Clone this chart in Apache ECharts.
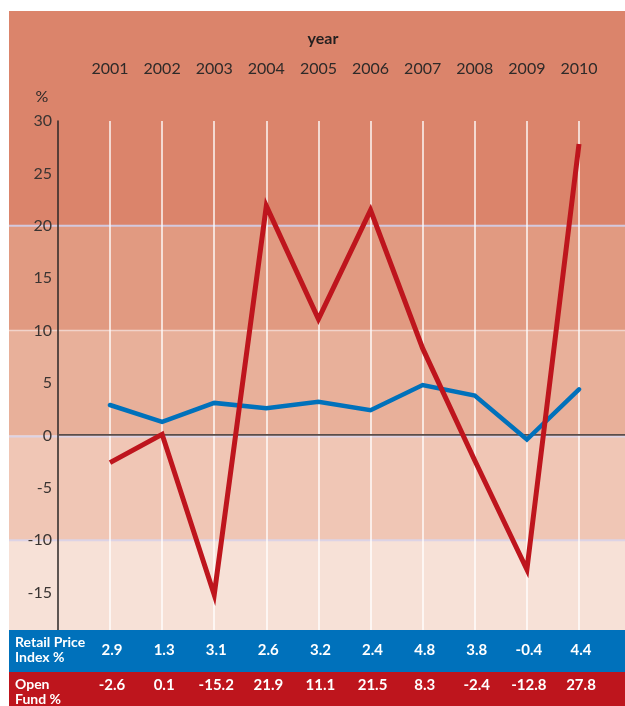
<!DOCTYPE html>
<html>
<head>
<meta charset="utf-8">
<style>
  html, body { margin: 0; padding: 0; background: #ffffff; }
  #chart { width: 625px; height: 706px; }
</style>
<script src="https://cdn.jsdelivr.net/npm/echarts@6/dist/echarts.min.js"></script>
</head>
<body>
<div id="chart"></div>
<script>
// Annual change, per cent
const years = ['2001', '2002', '2003', '2004', '2005', '2006', '2007', '2008', '2009', '2010'];
const retailPriceIndex = [2.9, 1.3, 3.1, 2.6, 3.2, 2.4, 4.8, 3.8, -0.4, 4.4];
const openFund = [-2.6, 0.1, -15.2, 21.9, 11.1, 21.5, 8.3, -2.4, -12.8, 27.8];

// Value axis settings
const yMin = -20;
const yMax = 30;
const yStep = 5;
// Levels where the background shading changes
const bandLevels = [20, 10, 0, -10];

const FONT = 'Lato, "Open Sans", sans-serif';
const TEXT = '#2e2a29';
const BLUE = '#0071bb';
const RED = '#be151d';

const chart = echarts.init(document.getElementById('chart'), null, { renderer: 'canvas' });

chart.setOption({
  animation: false,
  grid: { left: 110, top: 121, width: 469, height: 524 },
  xAxis: {
    type: 'category',
    position: 'top',
    boundaryGap: false,
    data: years,
    axisLine: { show: false },
    axisTick: { show: false },
    axisLabel: { interval: 0, margin: 44, color: TEXT, fontSize: 16, fontFamily: FONT },
    splitLine: { show: true, lineStyle: { color: 'rgba(255,255,255,0.92)', width: 1.5 } }
  },
  yAxis: {
    type: 'value',
    min: yMin,
    max: yMax,
    interval: yStep,
    offset: 52,
    axisLine: { show: true, lineStyle: { color: '#2b2626', width: 1.5 } },
    axisTick: { show: false },
    splitLine: { show: false },
    axisLabel: {
      margin: 6,
      color: '#3a3432',
      fontSize: 16,
      fontFamily: FONT,
      formatter: v => (v === yMin ? '' : String(v))
    }
  },
  series: [
    {
      name: 'Retail Price Index %',
      type: 'line',
      data: retailPriceIndex,
      symbol: 'none',
      clip: false,
      z: 3,
      lineStyle: { color: BLUE, width: 4.5, join: 'miter', cap: 'round' }
    },
    {
      name: 'Open Fund %',
      type: 'line',
      data: openFund,
      symbol: 'none',
      clip: false,
      z: 4,
      lineStyle: { color: RED, width: 5, join: 'miter', cap: 'butt' }
    }
  ]
});

// Background shading, header texts and the value table under the plot
(function () {
  const W = 625, H = 706;
  const panelLeft = 9, panelTop = 11;
  const axisX = 58;
  const tableTop = 630, rowH = 42;
  const yPx = v => chart.convertToPixel({ yAxisIndex: 0 }, v);
  const xPx = c => chart.convertToPixel({ xAxisIndex: 0 }, c);

  const bandColors = ['#db846b', '#e19a81', '#e8b09a', '#f0c6b5', '#f7e1d7'];
  const edges = [panelTop].concat(bandLevels.map(yPx)).concat([tableTop]);
  const elements = [];

  for (let i = 0; i < bandColors.length; i++) {
    elements.push({
      type: 'rect', silent: true, z: -20,
      shape: { x: panelLeft, y: edges[i], width: W - panelLeft, height: edges[i + 1] - edges[i] },
      style: { fill: bandColors[i] }
    });
  }

  // Separator lines between the shaded bands
  const sepStyle = { 20: ['#d3c9df', 2], 10: ['#f1d3ca', 1.5], 0: ['#dcd3e6', 2], '-10': ['#dcd3e6', 2] };
  bandLevels.forEach(v => {
    const y = yPx(v) + (v === 0 ? 1 : 0);
    elements.push({
      type: 'line', silent: true, z: -10,
      shape: { x1: panelLeft, y1: y, x2: W, y2: y },
      style: { stroke: sepStyle[v][0], lineWidth: sepStyle[v][1] }
    });
  });
  // Zero line
  elements.push({
    type: 'line', silent: true, z: 1,
    shape: { x1: axisX, y1: yPx(0) - 0.5, x2: W, y2: yPx(0) - 0.5 },
    style: { stroke: '#5a4d4a', lineWidth: 1.8 }
  });

  // Header texts
  elements.push({
    type: 'text', silent: true, z: 5,
    style: { x: 323, y: 39, text: 'year', fill: '#231f1f', font: 'bold 16px ' + FONT, textAlign: 'center', textVerticalAlign: 'middle' }
  });
  elements.push({
    type: 'text', silent: true, z: 5,
    style: { x: 42, y: 97, text: '%', fill: TEXT, font: '16px ' + FONT, textAlign: 'center', textVerticalAlign: 'middle' }
  });

  // Value table
  const rows = [
    { label: 'Retail Price\nIndex %', values: retailPriceIndex, color: BLUE },
    { label: 'Open\nFund %', values: openFund, color: RED }
  ];
  rows.forEach((row, r) => {
    const y0 = tableTop + r * rowH;
    const h = r === rows.length - 1 ? H - y0 : rowH;
    elements.push({
      type: 'rect', silent: true, z: 50,
      shape: { x: panelLeft, y: y0, width: W - panelLeft, height: h },
      style: { fill: row.color }
    });
    elements.push({
      type: 'text', silent: true, z: 51,
      style: {
        x: 15, y: y0 + 20, text: row.label, fill: '#ffffff',
        font: 'bold 14px ' + FONT, lineHeight: 15,
        textAlign: 'left', textVerticalAlign: 'middle'
      }
    });
    row.values.forEach((v, i) => {
      elements.push({
        type: 'text', silent: true, z: 51,
        style: {
          x: xPx(years[i]) + 2, y: y0 + (r === 0 ? 20 : 13), text: v.toFixed(1), fill: '#ffffff',
          font: 'bold 15px ' + FONT, textAlign: 'center', textVerticalAlign: 'middle'
        }
      });
    });
  });

  chart.setOption({ graphic: { elements: elements } });
})();
</script>
</body>
</html>
